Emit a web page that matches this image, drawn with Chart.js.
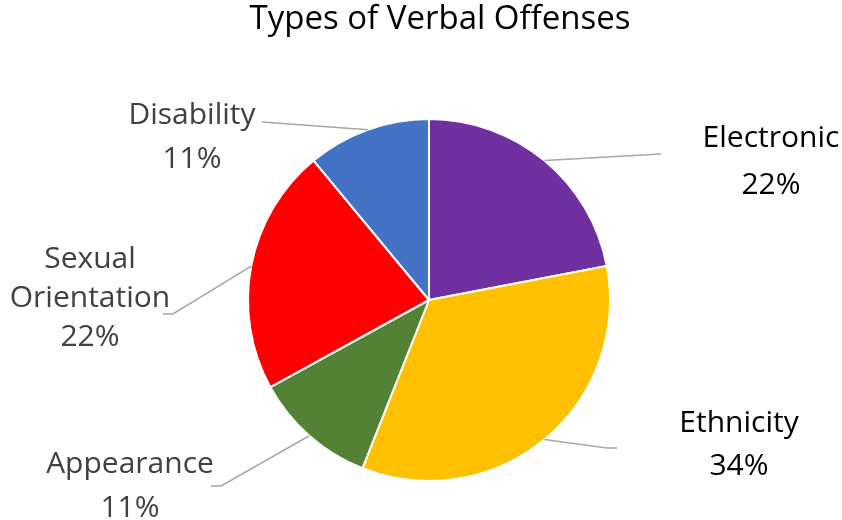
<!DOCTYPE html>
<html>
<head>
<meta charset="utf-8">
<script src="https://cdn.jsdelivr.net/npm/chart.js@4/dist/chart.umd.min.js"></script>
<style>
  html, body { margin: 0; padding: 0; background: #fff; }
</style>
</head>
<body>
<canvas id="grafico" width="842" height="520"></canvas>
<script>
const categorias = ["Electronic", "Ethnicity", "Appearance", "Sexual Orientation", "Disability"];
const porcentajes = [22, 34, 11, 22, 11];
const colores = ["#7030A0", "#FFC000", "#548235", "#FF0000", "#4472C4"];
const titulo = "Types of Verbal Offenses";

// where each label sits: text lines, centre x, first baseline, line step, leader elbow
const etiquetas = [
    { lineas: ["Electronic"], x: 771, y: 147, paso: 47, codo: [661, 154], fin: null, color: "#000000" },
    { lineas: ["Ethnicity"], x: 739, y: 432, paso: 43, codo: [607, 448], fin: [617, 448], color: "#000000" },
    { lineas: ["Appearance"], x: 130, y: 473, paso: 44, codo: [221, 486], fin: [211, 486], color: "#404040" },
    { lineas: ["Sexual", "Orientation"], x: 90, y: 268, paso: 39, codo: [173, 314], fin: [163, 314], color: "#404040" },
    { lineas: ["Disability"], x: 192, y: 124, paso: 44, codo: [262, 122], fin: null, color: "#404040" }
];

const fuente = "'Open Sans', sans-serif";

const pluginEtiquetas = {
    id: "etiquetas",
    afterDraw(chart) {
        const ctx = chart.ctx;
        ctx.save();
        ctx.textAlign = "center";
        ctx.textBaseline = "alphabetic";
        ctx.fillStyle = "#000000";
        ctx.font = "33px " + fuente;
        ctx.fillText(titulo, 440, 29);

        const arcos = chart.getDatasetMeta(0).data;
        arcos.forEach((arco, i) => {
            const et = etiquetas[i];
            const medio = (arco.startAngle + arco.endAngle) / 2;
            const r = arco.outerRadius;
            const x0 = arco.x + Math.cos(medio) * r;
            const y0 = arco.y + Math.sin(medio) * r;
            ctx.strokeStyle = "#A6A6A6";
            ctx.lineWidth = 1.5;
            ctx.beginPath();
            ctx.moveTo(x0, y0);
            ctx.lineTo(et.codo[0], et.codo[1]);
            if (et.fin) ctx.lineTo(et.fin[0], et.fin[1]);
            ctx.stroke();

            ctx.fillStyle = et.color;
            ctx.font = "30px " + fuente;
            const textos = et.lineas.concat([porcentajes[i] + "%"]);
            textos.forEach((t, j) => {
                ctx.fillText(t, et.x, et.y + j * et.paso);
            });
        });
        ctx.restore();
    }
};

new Chart(document.getElementById("grafico"), {
    type: "pie",
    data: {
        labels: categorias,
        datasets: [{
            data: porcentajes,
            backgroundColor: colores,
            borderColor: "#ffffff",
            borderWidth: 2
        }]
    },
    options: {
        responsive: false,
        animation: false,
        layout: { padding: { left: 247, right: 231, top: 118, bottom: 38 } },
        plugins: {
            legend: { display: false },
            title: { display: false },
            tooltip: { enabled: false }
        }
    },
    plugins: [pluginEtiquetas]
});
</script>
</body>
</html>
